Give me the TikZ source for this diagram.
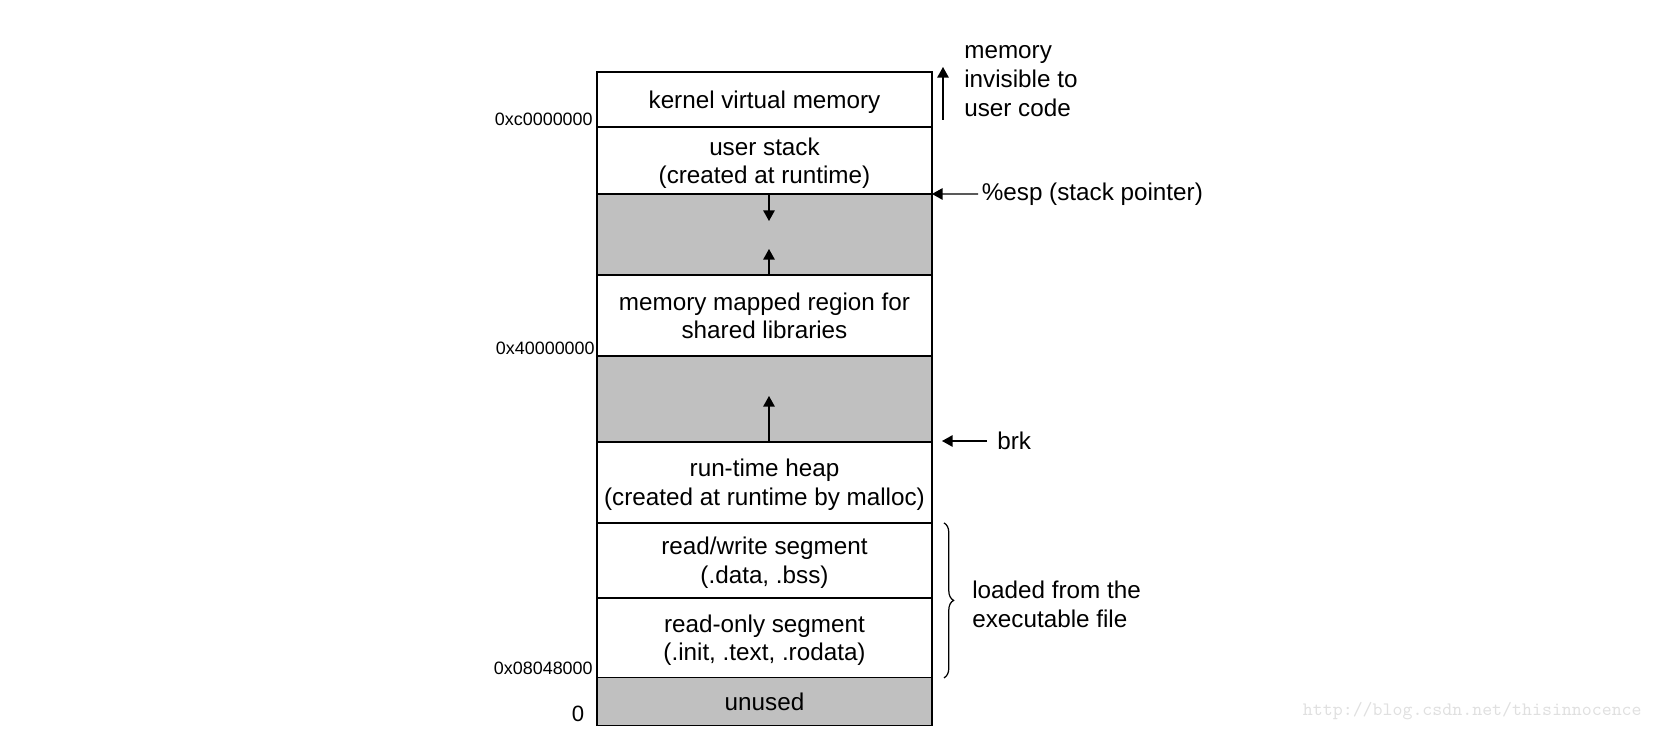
\documentclass[tikz,border=0pt]{standalone}
\usepackage{fontspec}
\setmainfont{Liberation Sans}
\usetikzlibrary{positioning,arrows.meta,decorations.pathreplacing}
\definecolor{gapgray}{RGB}{192,192,192}
\tikzset{
  seg/.style={draw,line width=0.7pt,minimum width=6.7cm,outer sep=0pt,inner sep=0pt,
    align=center,text depth=0pt,font=\fontsize{13.8}{16.2}\selectfont},
  hole/.style={seg,fill=gapgray},
  addr/.style={inner sep=0pt,anchor=east,font=\fontsize{10.2}{12}\selectfont},
  note/.style={inner sep=0pt,anchor=west,align=left,font=\fontsize{13.8}{16.4}\selectfont},
  ptr/.style={-{Triangle[length=6pt,width=6.5pt]},line width=0.7pt},
}

\begin{document}
\begin{tikzpicture}[x=0.02cm,y=-0.02cm]
    \useasboundingbox (0,0) rectangle (1654,750);
    % the address space, top to bottom
    \node[seg,minimum height=1.1cm,anchor=north] (kern) at (764.5,72) {kernel virtual memory};
    \node[seg,minimum height=1.34cm,below=0pt of kern] (stack) {user stack\\(created at runtime)};
    \node[hole,minimum height=1.62cm,below=0pt of stack] (gap1) {};
    \node[seg,minimum height=1.62cm,below=0pt of gap1] (mmap) {memory mapped region for\\shared libraries};
    \node[hole,minimum height=1.72cm,below=0pt of mmap] (gap2) {};
    \node[seg,minimum height=1.62cm,below=0pt of gap2] (heap) {run-time heap\\(created at runtime by malloc)};
    \node[seg,minimum height=1.5cm,below=0pt of heap] (rw) {read/write segment\\(.data, .bss)};
    \node[seg,minimum height=1.6cm,below=0pt of rw] (ro) {read-only segment\\(.init, .text, .rodata)};
    \node[hole,minimum height=0.96cm,below=0pt of ro] (unused) {unused};

    % addresses
    \node[addr] (a1) at (593,119.5) {0xc0000000};
    \node[addr] (a2) at (595,348.5) {0x40000000};
    \node[addr] (a3) at (593,668.5) {0x08048000};
    \node[inner sep=0pt,font=\fontsize{12.6}{15}\selectfont] (a0) at (578,714) {0};

    % growth arrows
    \coordinate (d1) at (769,221);
    \coordinate (u1) at (769,249);
    \coordinate (u2) at (769,396);
    \draw[ptr] (stack.south -| d1) -- (d1);
    \draw[ptr] (gap1.south -| u1) -- (u1);
    \draw[ptr] (gap2.south -| u2) -- (u2);

    % right side
    \coordinate (k1) at (943,120);
    \coordinate (k2) at (943,67);
    \draw[ptr] (k1) -- (k2);
    \node[note] (inv) at (964,81) {memory\\invisible to\\user code};

    \coordinate (e1) at (978,194);
    \draw[ptr] (e1) -- (stack.south east);
    \node[note,right=2pt of e1] (esp) {\%esp (stack pointer)};

    \coordinate (b1) at (987,441);
    \coordinate (b2) at (942,441);
    \draw[ptr] (b1) -- (b2);
    \node[note] (brk) at (997,441) {brk};

    \draw[line width=0.7pt,decorate,decoration={brace,amplitude=5.5pt}]
        ([xshift=0.24cm]rw.north east) -- ([xshift=0.24cm]ro.south east);
    \node[note] (load) at (972,604) {loaded from the\\executable file};

    \node[inner sep=0pt,anchor=east,text=black!12,font=\fontsize{10.8}{12}\ttfamily] (wm) at (1642,711) {http://blog.csdn.net/thisinnocence};
\end{tikzpicture}
\end{document}
